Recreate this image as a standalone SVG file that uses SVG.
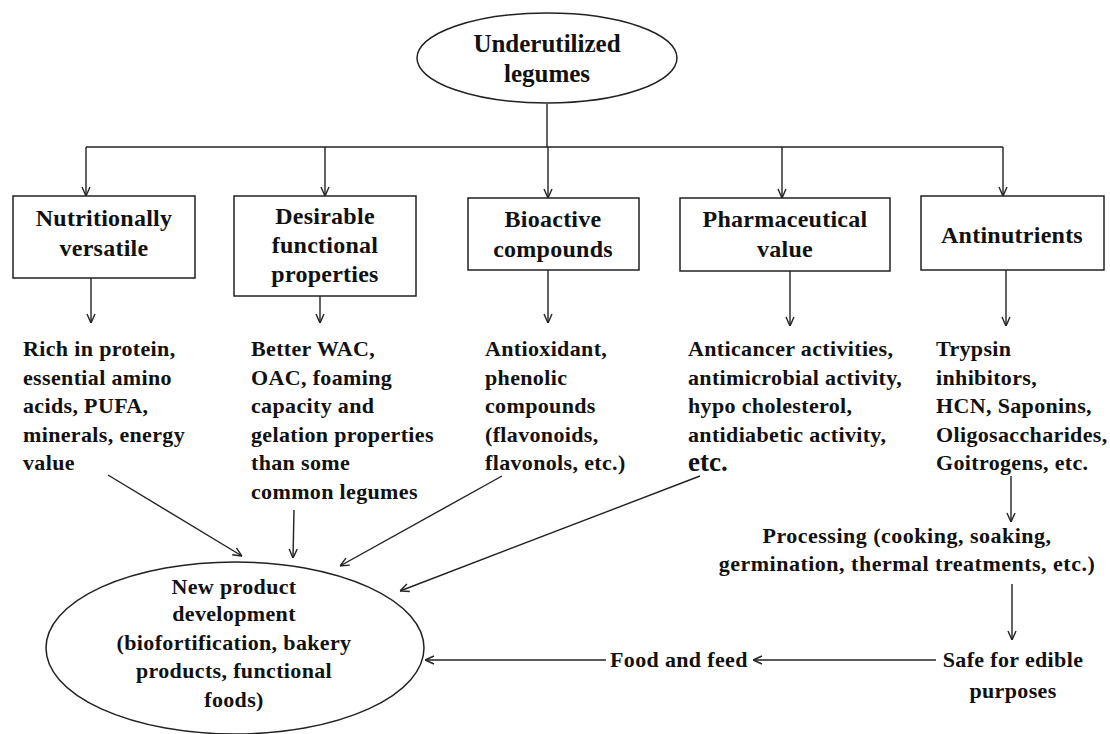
<svg xmlns="http://www.w3.org/2000/svg" width="1110" height="734" viewBox="0 0 1110 734">
<defs>
<style>
.t{font-family:"Liberation Serif","Times New Roman",serif;font-weight:bold;fill:#111}
.h{font-size:24px;text-anchor:middle;letter-spacing:0.25px}
.b{font-size:22px;letter-spacing:0.35px}
.c{text-anchor:middle}
.shape{fill:#fff;stroke:#222;stroke-width:1.5}
.ln{stroke:#222;stroke-width:1.4;fill:none}
</style>
<marker id="ah" viewBox="0 0 10 10" refX="10" refY="5" markerWidth="10" markerHeight="10" markerUnits="userSpaceOnUse" orient="auto">
<path d="M1,1 L10,5 L1,9" fill="none" stroke="#222" stroke-width="1.4"/>
</marker>
</defs>
<rect width="1110" height="734" fill="#fff"/>

<g id="connectors">
<line class="ln" x1="547" y1="104" x2="547" y2="147"/>
<line class="ln" x1="86" y1="147" x2="1003" y2="147"/>
<line class="ln" x1="86" y1="147" x2="86" y2="196" marker-end="url(#ah)"/>
<line class="ln" x1="325" y1="147" x2="325" y2="196" marker-end="url(#ah)"/>
<line class="ln" x1="548" y1="147" x2="548" y2="198" marker-end="url(#ah)"/>
<line class="ln" x1="782" y1="147" x2="782" y2="198" marker-end="url(#ah)"/>
<line class="ln" x1="1003" y1="147" x2="1003" y2="196" marker-end="url(#ah)"/>
<line class="ln" x1="91" y1="278" x2="91" y2="323" marker-end="url(#ah)"/>
<line class="ln" x1="320" y1="296" x2="320" y2="323" marker-end="url(#ah)"/>
<line class="ln" x1="548" y1="270" x2="548" y2="323" marker-end="url(#ah)"/>
<line class="ln" x1="790" y1="271" x2="790" y2="326" marker-end="url(#ah)"/>
<line class="ln" x1="1006" y1="270" x2="1006" y2="326" marker-end="url(#ah)"/>
<line class="ln" x1="108" y1="475" x2="242" y2="556" marker-end="url(#ah)"/>
<line class="ln" x1="294" y1="510" x2="293" y2="558" marker-end="url(#ah)"/>
<line class="ln" x1="502" y1="476" x2="340" y2="566" marker-end="url(#ah)"/>
<line class="ln" x1="700" y1="476" x2="400" y2="591" marker-end="url(#ah)"/>
<line class="ln" x1="1011" y1="476" x2="1011" y2="522" marker-end="url(#ah)"/>
<line class="ln" x1="1012" y1="584" x2="1012" y2="640" marker-end="url(#ah)"/>
<line class="ln" x1="936" y1="660" x2="753" y2="660" marker-end="url(#ah)"/>
<line class="ln" x1="606" y1="660" x2="425" y2="660" marker-end="url(#ah)"/>
</g>

<g id="root">
<ellipse class="shape" cx="547" cy="58" rx="130" ry="45"/>
<text class="t c" font-size="25" x="547" y="52">Underutilized</text>
<text class="t c" font-size="25" x="547" y="82">legumes</text>
</g>

<g id="box-nutritionally">
<rect class="shape" x="13" y="196" width="182" height="82"/>
<text class="t h" x="104" y="226">Nutritionally</text>
<text class="t h" x="104" y="256">versatile</text>
</g>

<g id="box-functional">
<rect class="shape" x="234" y="196" width="182" height="100"/>
<text class="t h" x="325" y="224">Desirable</text>
<text class="t h" x="325" y="253">functional</text>
<text class="t h" x="325" y="282">properties</text>
</g>

<g id="box-bioactive">
<rect class="shape" x="468" y="198" width="171" height="72"/>
<text class="t h" x="553" y="227">Bioactive</text>
<text class="t h" x="553" y="257">compounds</text>
</g>

<g id="box-pharma">
<rect class="shape" x="680" y="198" width="210" height="73"/>
<text class="t h" x="785" y="227">Pharmaceutical</text>
<text class="t h" x="785" y="257">value</text>
</g>

<g id="box-antinutrients">
<rect class="shape" x="921" y="196" width="183" height="74"/>
<text class="t h" x="1012" y="243">Antinutrients</text>
</g>

<g id="text-nutrition">
<text class="t b" x="23" y="356">Rich in protein,</text>
<text class="t b" x="23" y="384.5">essential amino</text>
<text class="t b" x="23" y="413">acids, PUFA,</text>
<text class="t b" x="23" y="441.5">minerals, energy</text>
<text class="t b" x="23" y="470">value</text>
</g>

<g id="text-functional">
<text class="t b" x="251" y="356">Better WAC,</text>
<text class="t b" x="251" y="384.5">OAC, foaming</text>
<text class="t b" x="251" y="413">capacity and</text>
<text class="t b" x="251" y="441.5">gelation properties</text>
<text class="t b" x="251" y="470">than some</text>
<text class="t b" x="251" y="498.5">common legumes</text>
</g>

<g id="text-bioactive">
<text class="t b" x="485" y="356">Antioxidant,</text>
<text class="t b" x="485" y="384.5">phenolic</text>
<text class="t b" x="485" y="413">compounds</text>
<text class="t b" x="485" y="441.5">(flavonoids,</text>
<text class="t b" x="485" y="470">flavonols, etc.)</text>
</g>

<g id="text-pharma">
<text class="t b" x="688" y="356">Anticancer activities,</text>
<text class="t b" x="688" y="384.5">antimicrobial activity,</text>
<text class="t b" x="688" y="413">hypo cholesterol,</text>
<text class="t b" x="688" y="441.5">antidiabetic activity,</text>
<text class="t" font-size="27" x="688" y="471">etc.</text>
</g>

<g id="text-antinutrients">
<text class="t b" x="936" y="356">Trypsin</text>
<text class="t b" x="936" y="384.5">inhibitors,</text>
<text class="t b" x="936" y="413">HCN, Saponins,</text>
<text class="t b" x="936" y="441.5">Oligosaccharides,</text>
<text class="t b" x="936" y="470">Goitrogens, etc.</text>
</g>

<g id="processing">
<text class="t b c" x="907" y="543" style="letter-spacing:0.5px">Processing (cooking, soaking,</text>
<text class="t b c" x="907" y="571" style="letter-spacing:0.5px">germination, thermal treatments, etc.)</text>
</g>

<g id="safe">
<text class="t b c" x="1013" y="667">Safe for edible</text>
<text class="t b c" x="1013" y="698">purposes</text>
</g>

<g id="food-feed">
<text class="t b" x="610" y="667">Food and feed</text>
</g>

<g id="new-product">
<ellipse class="shape" cx="235" cy="648" rx="189" ry="86"/>
<text class="t b c" x="234" y="594">New product</text>
<text class="t b c" x="234" y="621">development</text>
<text class="t b c" x="234" y="650">(biofortification, bakery</text>
<text class="t b c" x="234" y="678">products, functional</text>
<text class="t b c" x="234" y="707">foods)</text>
</g>
</svg>
